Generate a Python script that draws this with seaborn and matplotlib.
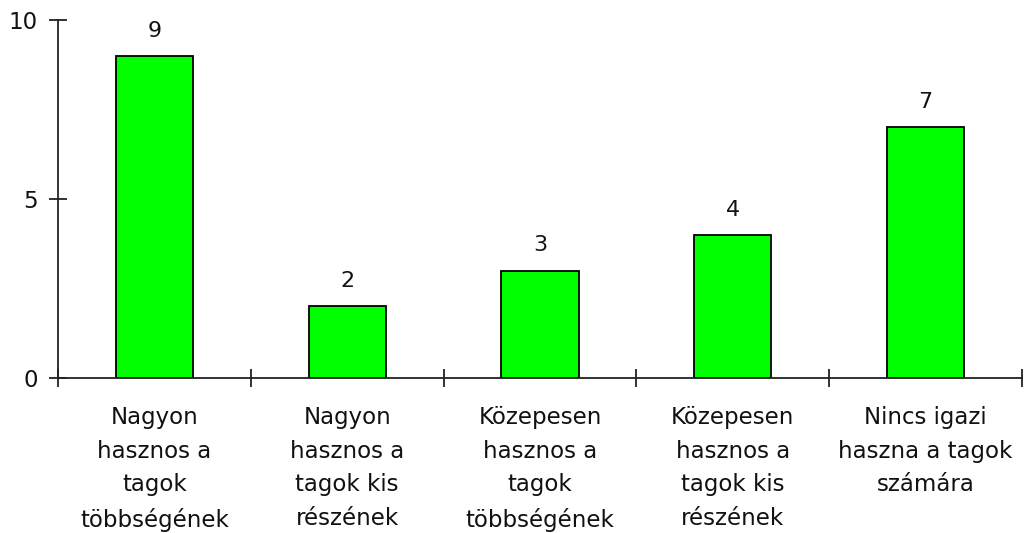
import matplotlib
matplotlib.use('Agg')
import matplotlib.pyplot as plt
import seaborn as sns
import pandas as pd
from matplotlib.ticker import FixedLocator

categories = [
    'Nagyon\nhasznos a\ntagok\ntöbbségének',
    'Nagyon\nhasznos a\ntagok kis\nrészének',
    'Közepesen\nhasznos a\ntagok\ntöbbségének',
    'Közepesen\nhasznos a\ntagok kis\nrészének',
    'Nincs igazi\nhaszna a tagok\nszámára',
]
values = [9, 2, 3, 4, 7]
y_ticks = [0, 5, 10]

df = pd.DataFrame({'cat': categories, 'val': values})

sns.set_style('white')
plt.rcParams['font.family'] = ['DejaVu Sans']

fig = plt.figure(figsize=(10.31, 5.33), dpi=100)
ax = fig.add_axes([58 / 1031, 1 - 378 / 533, 964 / 1031, 358 / 533])

sns.barplot(data=df, x='cat', y='val', color='#00ff00', saturation=1,
            width=0.4, edgecolor='black', linewidth=1.3, ax=ax)

ax.bar_label(ax.containers[0], padding=11, fontsize=16, color='#111111')

ax.set_xlim(-0.5, len(categories) - 0.5)
ax.set_ylim(0, 10)
ax.set_yticks(y_ticks)
ax.set_xlabel('')
ax.set_ylabel('')

# separators between categories
ax.xaxis.set_minor_locator(FixedLocator([i - 0.5 for i in range(len(categories) + 1)]))
ax.tick_params(axis='x', which='major', bottom=True, length=0, pad=20,
               labelsize=16.5, labelcolor='#111111')
ax.tick_params(axis='x', which='minor', bottom=True, direction='inout',
               length=13, width=1.3, color='#222222')
ax.tick_params(axis='y', left=True, direction='inout', length=13, width=1.3,
               color='#222222', pad=8, labelsize=16.5, labelcolor='#111111')
for lab in ax.get_xticklabels():
    lab.set_linespacing(1.6)

for s in ['top', 'right']:
    ax.spines[s].set_visible(False)
for s in ['left', 'bottom']:
    ax.spines[s].set_color('#222222')
    ax.spines[s].set_linewidth(1.3)

fig.savefig('out.png', dpi=100)
